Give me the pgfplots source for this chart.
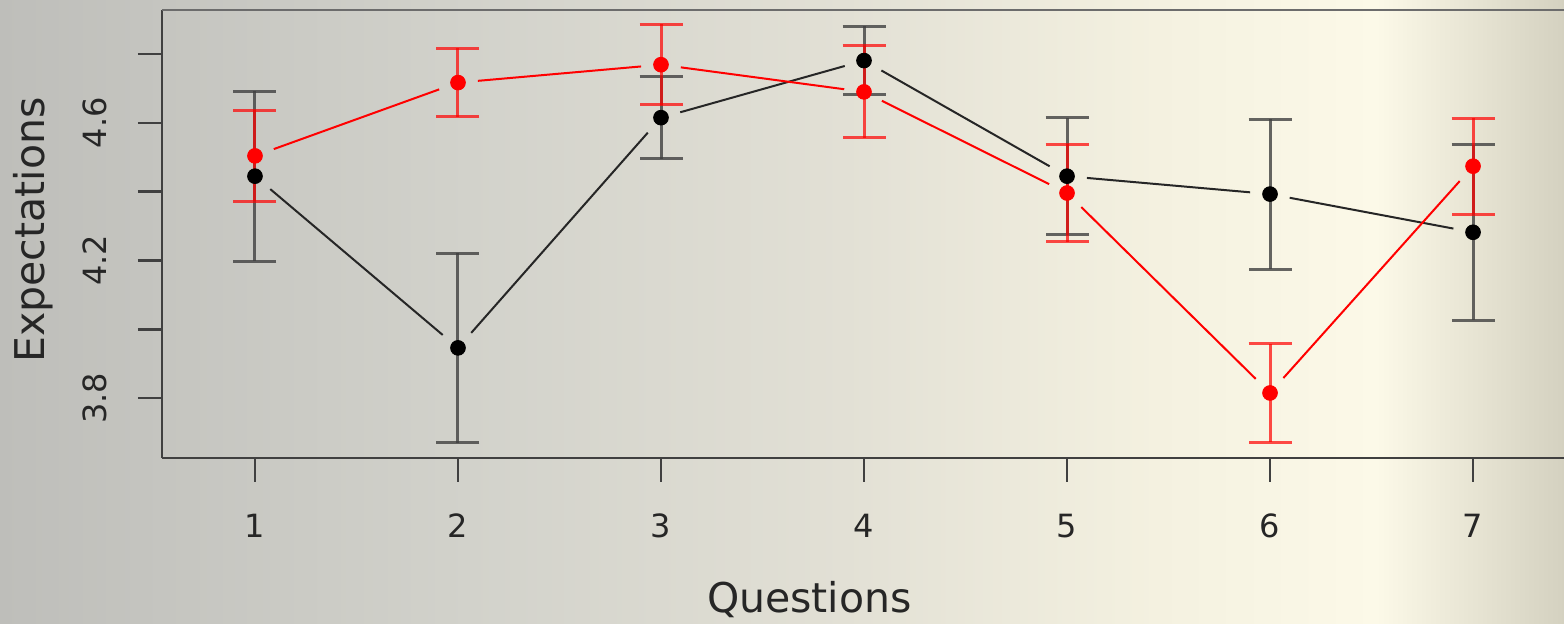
\documentclass[border=0pt]{standalone}
\usepackage{pgfplots}
\pgfplotsset{compat=1.18}
\usepackage{fontspec}
\setmainfont{DejaVu Sans}
\definecolor{bgA}{RGB}{190,190,186}
\definecolor{bgB}{RGB}{210,210,203}
\definecolor{bgC}{RGB}{226,224,213}
\definecolor{bgD}{RGB}{244,241,224}
\definecolor{bgE}{RGB}{252,249,232}
\definecolor{bgF}{RGB}{212,209,192}
\definecolor{spine}{RGB}{64,64,64}
\definecolor{rred}{RGB}{255,0,0}
\pgfdeclarehorizontalshading{bgshade}{100bp}{color(0bp)=(bgA); color(25bp)=(bgA); color(40bp)=(bgB); color(52bp)=(bgC); color(62bp)=(bgD); color(69bp)=(bgE); color(75bp)=(bgF); color(100bp)=(bgF)}
\pgfplotstableread{
x y e
1 4.445 0.247
2 3.946 0.275
3 4.615 0.120
4 4.781 0.100
5 4.445 0.170
6 4.393 0.218
7 4.282 0.255
}\blackdata
\pgfplotstableread{
x y e
1 4.504 0.132
2 4.717 0.100
3 4.769 0.117
4 4.690 0.134
5 4.396 0.142
6 3.815 0.143
7 4.474 0.139
}\reddata
\begin{document}
\begin{tikzpicture}
\clip (0,0) rectangle (782pt,312pt);
\shade[shading=bgshade] (0,0) rectangle (782pt,312pt);
\begin{axis}[
  overlay,
  scale only axis,
  at={(81pt,83pt)}, anchor=south west,
  width=708.3pt, height=224pt,
  xmin=0.542, xmax=7.52,
  ymin=3.626, ymax=4.928,
  axis line style={spine, line width=1.3pt},
  axis x line*=bottom, axis y line*=left,
  xtick={1,...,7},
  ytick={3.8,4.0,4.2,4.4,4.6,4.8},
  yticklabels={3.8,,4.2,,4.6,},
  tick align=outside,
  major tick length=12pt,
  tick style={spine, line width=1.3pt},
  every tick label/.append style={font=\fontsize{16}{18}\selectfont, text=black!85},
  xticklabel style={anchor=center, yshift=-22pt},
  yticklabel style={rotate=90, anchor=center, yshift=21.5pt},
  /pgf/number format/assume math mode=true,
  xlabel={Questions},
  ylabel={Expectations},
  label style={font=\fontsize{20.5}{24}\selectfont, text=black!85},
  xlabel style={at={(axis description cs:0.457,-0.344)}, anchor=base},
  ylabel style={at={(axis description cs:-0.091,0.509)}, anchor=center},
  clip=false,
]
\draw[gray!85!black, line width=1.3pt] (rel axis cs:0,1) -- (rel axis cs:1.02,1);
\addplot[black!85, line width=1pt, shorten <=10pt, shorten >=10pt] coordinates {(1,4.445) (2,3.946)};
\addplot[black!85, line width=1pt, shorten <=10pt, shorten >=10pt] coordinates {(2,3.946) (3,4.615)};
\addplot[black!85, line width=1pt, shorten <=10pt, shorten >=10pt] coordinates {(3,4.615) (4,4.781)};
\addplot[black!85, line width=1pt, shorten <=10pt, shorten >=10pt] coordinates {(4,4.781) (5,4.445)};
\addplot[black!85, line width=1pt, shorten <=10pt, shorten >=10pt] coordinates {(5,4.445) (6,4.393)};
\addplot[black!85, line width=1pt, shorten <=10pt, shorten >=10pt] coordinates {(6,4.393) (7,4.282)};
\addplot[only marks, mark=*, mark size=3.7pt, black, mark options={fill=black},
  error bars/.cd, y dir=both, y explicit,
  error bar style={black!75, line width=1.5pt, opacity=0.8},
  error mark options={black!75, line width=1.5pt, mark size=10.75pt, rotate=90, opacity=0.8}]
  table[x=x, y=y, y error=e] {\blackdata};
\addplot[rred, line width=1pt, shorten <=10pt, shorten >=10pt] coordinates {(1,4.504) (2,4.717)};
\addplot[rred, line width=1pt, shorten <=10pt, shorten >=10pt] coordinates {(2,4.717) (3,4.769)};
\addplot[rred, line width=1pt, shorten <=10pt, shorten >=10pt] coordinates {(3,4.769) (4,4.690)};
\addplot[rred, line width=1pt, shorten <=10pt, shorten >=10pt] coordinates {(4,4.690) (5,4.396)};
\addplot[rred, line width=1pt, shorten <=10pt, shorten >=10pt] coordinates {(5,4.396) (6,3.815)};
\addplot[rred, line width=1pt, shorten <=10pt, shorten >=10pt] coordinates {(6,3.815) (7,4.474)};
\addplot[only marks, mark=*, mark size=3.7pt, rred, mark options={fill=rred},
  error bars/.cd, y dir=both, y explicit,
  error bar style={rred, line width=1.5pt, opacity=0.7},
  error mark options={rred, line width=1.5pt, mark size=10.75pt, rotate=90, opacity=0.7}]
  table[x=x, y=y, y error=e] {\reddata};
\end{axis}
\end{tikzpicture}
\end{document}
